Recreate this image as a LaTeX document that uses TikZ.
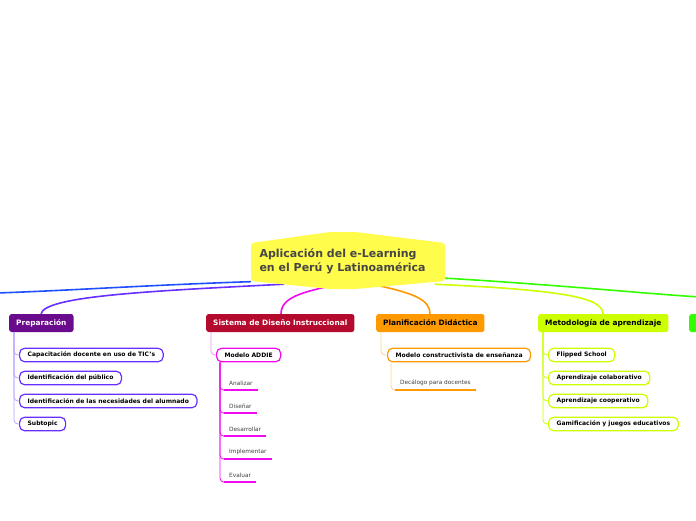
\documentclass[tikz,border=0pt]{standalone}
\usepackage{fontspec}
\setmainfont{DejaVu Sans}
\usepackage{xcolor}
\usepackage{tikz}
\usetikzlibrary{positioning}
\definecolor{rootyel}{RGB}{255,252,75}
\definecolor{rootink}{RGB}{70,70,70}
\definecolor{prepfill}{RGB}{106,10,140}
\definecolor{prepline}{RGB}{104,48,255}
\definecolor{sisfill}{RGB}{180,10,45}
\definecolor{sismag}{RGB}{240,10,240}
\definecolor{planfill}{RGB}{255,153,0}
\definecolor{metfill}{RGB}{204,255,0}
\definecolor{grnfill}{RGB}{50,255,0}
\definecolor{bluline}{RGB}{30,80,255}

\begin{document}
\begin{tikzpicture}[x=1pt, y=-1pt,
  topic/.style={rounded corners=2.5pt, anchor=west, minimum height=18pt, inner xsep=7pt,
                font=\fontsize{7.4}{8}\selectfont\bfseries},
  sub/.style={draw, line width=1.2pt, rounded corners=5pt, fill=white, anchor=west,
              minimum height=13.5pt, inner xsep=8pt, font=\fontsize{6.05}{7}\selectfont\bfseries},
  leaf/.style={anchor=west, minimum height=14pt, inner xsep=5pt, text=black!75,
               font=\fontsize{5.8}{7}\selectfont},
  ul/.style={line width=2pt},
  branch/.style={line width=1.6pt},
  twig/.style={line width=0.8pt, rounded corners=4pt}]
\useasboundingbox (0,0) rectangle (696,520);

\node[minimum width=194pt, minimum height=46pt] (root) at (348,261) {};
\coordinate (offl) at (-4,293);
\coordinate (offr) at (700,297);
\draw[branch, bluline] (root.192) .. controls (150,285) and (60,291) .. (offl);
\draw[branch, prepline] (root.200) .. controls (150,291) and (44,296) .. (41,314);
\draw[branch, sismag] (root.250) .. controls (300,292) and (281,298) .. (281,314);
\draw[branch, planfill] (root.315) .. controls (415,293) and (430,300) .. (430,314);
\draw[branch, metfill] (root.345) .. controls (560,290) and (603,297) .. (603,314);
\draw[branch, grnfill] (root.350) .. controls (560,285) and (650,294) .. (offr);
\fill[rootyel, rounded corners=3pt] (251,243) -- (330,232) -- (355,232) -- (445,243)
  -- (445,281) -- (355,289) -- (330,289) -- (251,281) -- cycle;
\node[anchor=west, align=left, text=rootink, font=\fontsize{11}{14}\selectfont\bfseries]
  (title) at (256,261) {Aplicación del e-Learning\\en el Perú y Latinoamérica};

\node[topic, fill=prepfill, text=white] (prep) at (9,323) {Preparación};
\node[topic, fill=sisfill, text=white] (sis) at (206,323) {Sistema de Diseño Instruccional};
\node[topic, fill=planfill] (plan) at (376,323) {Planificación Didáctica};
\node[topic, fill=metfill] (met) at (538,323) {Metodología de aprendizaje};
\node[topic, fill=grnfill, minimum width=20pt] (grn) at (689,323) {};

\foreach \lbl [count=\i] in {Capacitación docente en uso de TIC's, Identificación del público,
    Identificación de las necesidades del alumnado, Subtopic} {
  \node[sub, draw=prepline] (p\i) at (19,332+23*\i) {\lbl};
  \draw[twig, prepline!45] ([xshift=5pt]prep.south west) |- (p\i.west);
}

\node[sub, draw=sismag] (addie) at (216,355) {Modelo ADDIE};
\draw[twig, sismag!45] ([xshift=5pt]sis.south west) |- (addie.west);
\foreach \lbl [count=\i] in {Analizar, Diseñar, Desarrollar, Implementar, Evaluar} {
  \node[leaf] (a\i) at (224,360+23*\i) {\lbl};
  \draw[ul, sismag] (a\i.south west) -- (a\i.south east);
  \draw[twig, sismag] ([xshift=4pt]addie.south west) |- (a\i.south west);
}

\node[sub, draw=planfill] (cons) at (387,355) {Modelo constructivista de enseñanza};
\draw[twig, planfill!45] ([xshift=5pt]plan.south west) |- (cons.west);
\node[leaf] (deca) at (395,383) {Decálogo para docentes};
\draw[ul, planfill] (deca.south west) -- (deca.south east);
\draw[twig, planfill!45] ([xshift=4pt]cons.south west) |- (deca.south west);

\foreach \lbl [count=\i] in {Flipped School, Aprendizaje colaborativo,
    Aprendizaje cooperativo, Gamificación y juegos educativos} {
  \node[sub, draw=metfill] (m\i) at (548,332+23*\i) {\lbl};
  \draw[twig, metfill] ([xshift=5pt]met.south west) |- (m\i.west);
}
\end{tikzpicture}
\end{document}
